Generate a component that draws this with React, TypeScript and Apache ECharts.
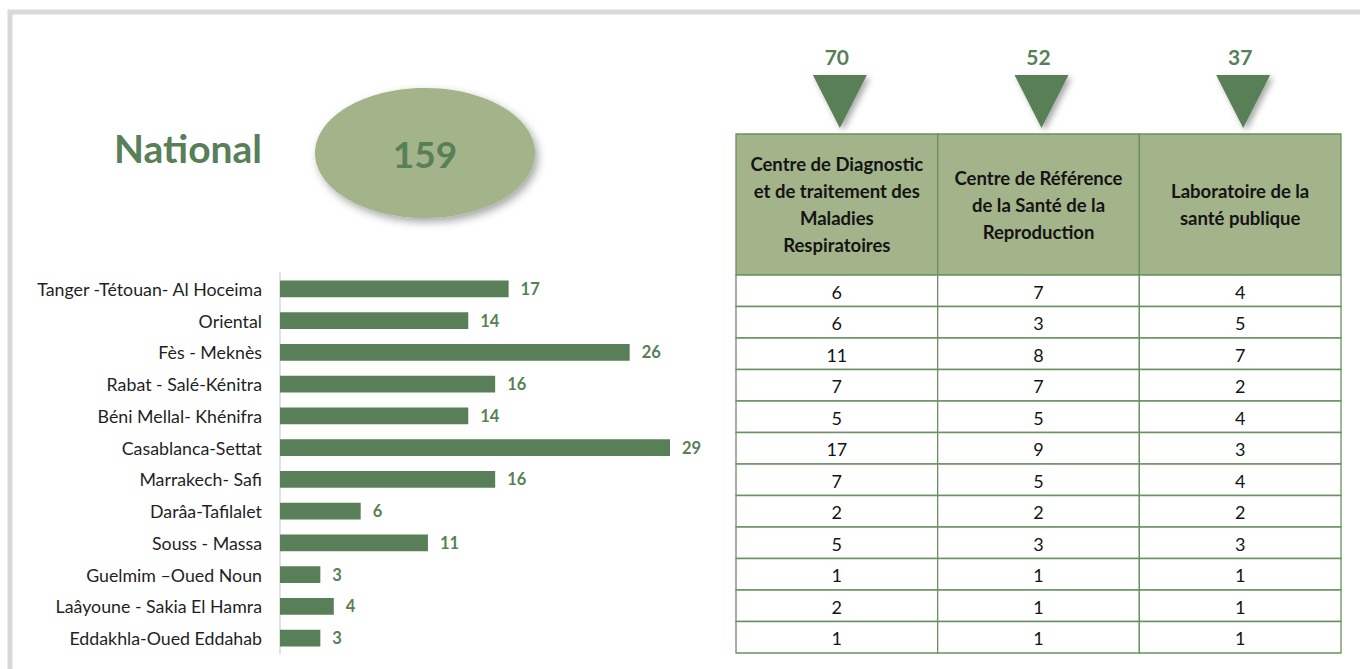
import React, { useEffect, useRef } from "react";
import * as echarts from "echarts";

const regions = [
  "Tanger -Tétouan- Al Hoceima",
  "Oriental",
  "Fès - Meknès",
  "Rabat - Salé-Kénitra",
  "Béni Mellal- Khénifra",
  "Casablanca-Settat",
  "Marrakech- Safi",
  "Darâa-Tafilalet",
  "Souss - Massa",
  "Guelmim –Oued Noun",
  "Laâyoune - Sakia El Hamra",
  "Eddakhla-Oued Eddahab",
];
const regionTotals = [17, 14, 26, 16, 14, 29, 16, 6, 11, 3, 4, 3];

const centreHeaders = [
  "Centre de Diagnostic\net de traitement des\nMaladies\nRespiratoires",
  "Centre de Référence\nde la Santé de la\nReproduction",
  "Laboratoire de la\nsanté publique",
];
const cdtmrValues = [6, 6, 11, 7, 5, 17, 7, 2, 5, 1, 2, 1];
const crsrValues = [7, 3, 8, 7, 5, 9, 5, 2, 3, 1, 1, 1];
const lspValues = [4, 5, 7, 2, 4, 3, 4, 2, 3, 1, 1, 1];
const centreTotals = [70, 52, 37];
const nationalLabel = "National";
const nationalTotal = 159;

const GREEN = "#587f57";
const LIGHT = "#a3b38a";
const BORDER = "#6b9163";
const FONT = "Lato, 'Open Sans', sans-serif";

export default function App() {
  const ref = useRef<HTMLDivElement>(null);

  useEffect(() => {
    if (!ref.current) return;
    const chart = echarts.init(ref.current, null, { renderer: "svg" });

    const tableLeft = 736;
    const tableRight = 1341;
    const headerTop = 134;
    const tableTop = 275;
    const tableBottom = 653;
    const colW = (tableRight - tableLeft) / centreHeaders.length;

    const columns = [cdtmrValues, crsrValues, lspValues];
    const tableData: number[][] = [];
    columns.forEach((col, c) => col.forEach((v, r) => tableData.push([c, r, v])));

    const graphics: any[] = [
      {
        type: "rect",
        shape: { x: 10, y: 12, width: 1420, height: 720 },
        style: { fill: "none", stroke: "#d9d9d9", lineWidth: 5 },
        silent: true,
      },
      {
        type: "text",
        style: {
          text: nationalLabel,
          x: 188,
          y: 148,
          align: "center",
          verticalAlign: "middle",
          textAlign: "center",
          textVerticalAlign: "middle",
          font: `bold 39px ${FONT}`,
          fill: GREEN,
        },
      },
      {
        type: "ellipse",
        shape: { cx: 425, cy: 153, rx: 110, ry: 65 },
        style: {
          fill: LIGHT,
          shadowBlur: 8,
          shadowOffsetX: 3,
          shadowOffsetY: 4,
          shadowColor: "rgba(0,0,0,0.35)",
        },
      },
      {
        type: "text",
        style: {
          text: String(nationalTotal),
          x: 425,
          y: 153,
          align: "center",
          verticalAlign: "middle",
          textAlign: "center",
          textVerticalAlign: "middle",
          font: `bold 37px ${FONT}`,
          fill: GREEN,
        },
      },
    ];

    centreHeaders.forEach((h, i) => {
      const x0 = tableLeft + colW * i;
      const cx = x0 + colW / 2;
      graphics.push({
        type: "rect",
        shape: { x: x0, y: headerTop, width: colW, height: tableTop - headerTop },
        style: { fill: LIGHT, stroke: BORDER, lineWidth: 1.3 },
      });
      graphics.push({
        type: "text",
        style: {
          text: h,
          x: cx,
          y: (headerTop + tableTop) / 2,
          align: "center",
          verticalAlign: "middle",
          textAlign: "center",
          textVerticalAlign: "middle",
          font: `bold 18.5px ${FONT}`,
          lineHeight: 27,
          fill: "#141414",
        },
      });
      const tx = cx + 3;
      graphics.push({
        type: "polygon",
        shape: { points: [[tx - 27, 75], [tx + 27, 75], [tx, 128]] },
        style: {
          fill: GREEN,
          shadowBlur: 6,
          shadowOffsetX: 3,
          shadowOffsetY: 3,
          shadowColor: "rgba(0,0,0,0.35)",
        },
      });
      graphics.push({
        type: "text",
        style: {
          text: String(centreTotals[i]),
          x: cx,
          y: 56,
          align: "center",
          verticalAlign: "middle",
          textAlign: "center",
          textVerticalAlign: "middle",
          font: `bold 21px ${FONT}`,
          fill: GREEN,
        },
      });
    });

    chart.setOption({
      animation: false,
      grid: [
        { left: 280, top: 273, width: 390, height: 381 },
        { left: tableLeft, top: tableTop, width: tableRight - tableLeft, height: tableBottom - tableTop },
      ],
      xAxis: [
        { type: "value", min: 0, max: 29, show: false, gridIndex: 0 },
        { type: "category", data: centreHeaders, show: false, gridIndex: 1 },
      ],
      yAxis: [
        {
          type: "category",
          data: regions,
          inverse: true,
          gridIndex: 0,
          axisLine: { show: true, lineStyle: { color: "#d9d9d9", width: 1.5 } },
          axisTick: { show: false },
          axisLabel: { color: "#1f1f1f", fontSize: 17.8, fontFamily: FONT, margin: 18 },
        },
        { type: "category", data: regions, inverse: true, show: false, gridIndex: 1 },
      ],
      series: [
        {
          type: "bar",
          xAxisIndex: 0,
          yAxisIndex: 0,
          data: regionTotals,
          barWidth: "52%",
          itemStyle: { color: GREEN },
          label: {
            show: true,
            position: "right",
            distance: 12,
            fontWeight: "bold",
            fontSize: 16.5,
            fontFamily: FONT,
            color: GREEN,
          },
        },
        {
          type: "custom",
          xAxisIndex: 1,
          yAxisIndex: 1,
          data: tableData,
          renderItem: (params: any, api: any) => {
            const c = api.coord([api.value(0), api.value(1)]);
            const s = api.size([1, 1]);
            return {
              type: "group",
              children: [
                {
                  type: "rect",
                  shape: { x: c[0] - s[0] / 2, y: c[1] - s[1] / 2, width: s[0], height: s[1] },
                  style: { fill: "#ffffff", stroke: BORDER, lineWidth: 1.3 },
                },
                {
                  type: "text",
                  style: {
                    text: String(api.value(2)),
                    x: c[0],
                    y: c[1] + 1,
                    align: "center",
                    verticalAlign: "middle",
                    font: `18px ${FONT}`,
                    fill: "#141414",
                  },
                },
              ],
            };
          },
        },
      ],
      graphic: { elements: graphics },
    });

    return () => chart.dispose();
  }, []);

  return (
    <div
      ref={ref}
      style={{ position: "fixed", left: 0, top: 0, width: 1360, height: 669, background: "#ffffff" }}
    />
  );
}
